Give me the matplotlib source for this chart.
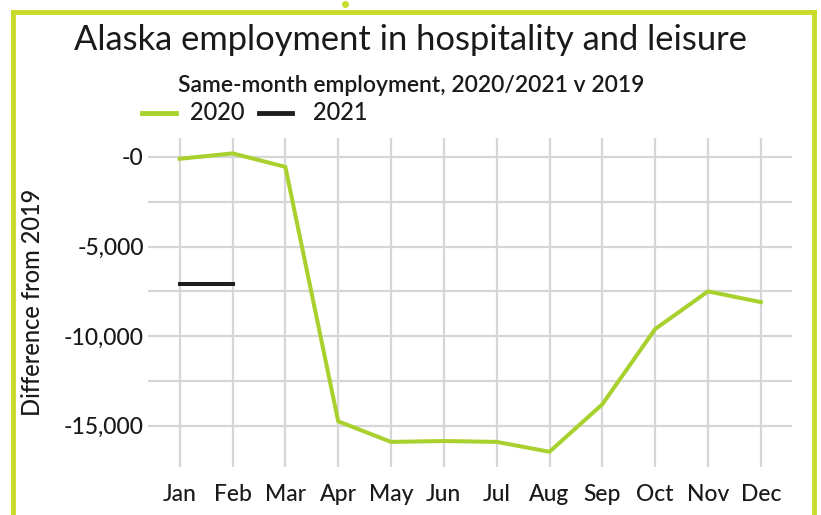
import matplotlib.pyplot as plt
from matplotlib.lines import Line2D
from matplotlib.ticker import FuncFormatter

months = ["Jan", "Feb", "Mar", "Apr", "May", "Jun", "Jul", "Aug", "Sep", "Oct", "Nov", "Dec"]
emp_2020 = [-100, 200, -550, -14750, -15900, -15850, -15900, -16450, -13800, -9600, -7500, -8100]
emp_2021 = [-7100, -7100]

lime = "#A9D12E"
frame = "#C9DC2C"
dark = "#1E1E1E"
txt = "#1a1a1a"

plt.rcParams['font.family'] = ['Lato', 'DejaVu Sans']

fig = plt.figure(figsize=(8.21, 5.15), dpi=100)
ax = fig.add_axes([148 / 821, 48 / 515, 644 / 821, 329 / 515])

x = list(range(len(months)))
ax.plot(x, emp_2020, color=lime, lw=2.9, zorder=3)
ax.plot(x[:len(emp_2021)], emp_2021, color=dark, lw=2.9, zorder=3)

ax.set_xlim(-0.6, 11.59)
ax.set_ylim(-17300, 1060)
ax.set_xticks(x)
ax.set_xticklabels(months)
ax.set_yticks([0, -5000, -10000, -15000])
ax.set_yticks([-2500, -7500, -12500], minor=True)

def fmt(v, pos):
    if v == 0:
        return "-0"
    return f"{v:,.0f}"

ax.yaxis.set_major_formatter(FuncFormatter(fmt))
ax.grid(True, which='both', color="#D6D6D6", lw=1.6)
ax.set_axisbelow(True)
for s in ax.spines.values():
    s.set_visible(False)
ax.tick_params(axis='both', which='both', length=0, labelsize=16.5, colors=txt)
ax.tick_params(axis='x', pad=12)
ax.tick_params(axis='y', pad=3)
for lab in ax.get_xticklabels() + ax.get_yticklabels():
    lab.set_fontweight('medium')
ax.set_ylabel("Difference from 2019", fontsize=17, fontweight='medium', color=txt, labelpad=14)

fig.text(410 / 821, 1 - 40 / 515, "Alaska employment in hospitality and leisure",
         ha='center', va='center', fontsize=24.8, color=txt)
fig.text(411 / 821, 1 - 85 / 515, "Same-month employment, 2020/2021 v 2019",
         ha='center', va='center', fontsize=16.5, fontweight='semibold', color=txt)

# legend
ly = 1 - 113 / 515
fig.add_artist(Line2D([142 / 821, 176 / 821], [ly, ly], color=lime, lw=3.5))
fig.text(190 / 821, ly, "2020", ha='left', va='center', fontsize=17, fontweight='medium', color=txt)
fig.add_artist(Line2D([259 / 821, 292 / 821], [ly, ly], color=dark, lw=3.5))
fig.text(313 / 821, ly, "2021", ha='left', va='center', fontsize=17, fontweight='medium', color=txt)

# frame
top = 1 - 12 / 515
fig.add_artist(Line2D([13 / 821, 13 / 821], [0, top], color=frame, lw=3.5))
fig.add_artist(Line2D([13 / 821, 814 / 821], [top, top], color=frame, lw=3.5))
fig.add_artist(Line2D([814 / 821, 814 / 821], [0, top], color=frame, lw=3.5))
fig.add_artist(Line2D([345 / 821], [1 - 4 / 515], color=frame, marker='o', ms=4, lw=0))

fig.savefig("out.png", dpi=100)
